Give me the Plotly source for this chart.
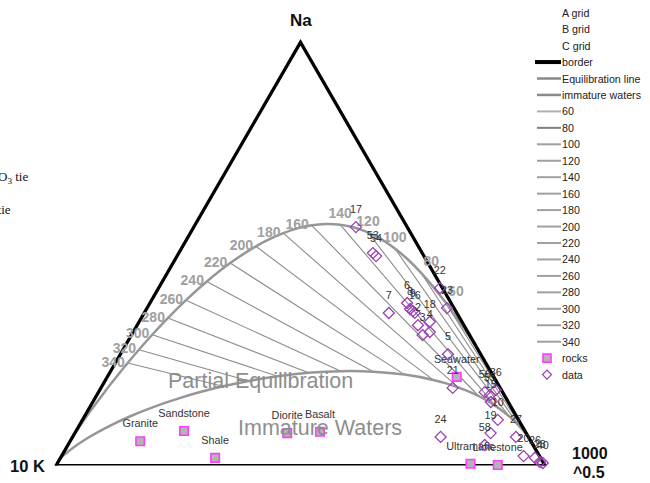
import math
import plotly.graph_objects as go

W, H = 650, 483

# ---------------- chart values ----------------
# Giggenbach (1988) Na-K-Mg geothermometer constants, Na fixed at 1000 mg/kg
NA_REF = 1000.0
NAK_A, NAK_B = 1390.0, 1.75      # T = 1390/(1.75+log(Na/K)) - 273.15
KMG_A, KMG_B = 4410.0, 14.0      # T = 4410/(14.0-log(K2/Mg)) - 273.15
MI_IMMATURE = 2.0                # maturity index of the immature-waters line

ISOTHERMS = [60, 80, 100, 120, 140, 160, 180, 200, 220, 240, 260, 280, 300, 320, 340]
CURVE_T = [-80, -60, -40, -20, 0, 10, 20, 30, 40, 50, 60, 70, 80, 90, 100, 110, 120,
           130, 140, 150, 160, 170, 180, 190, 200, 220, 240, 260, 280, 300, 320, 340,
           360, 380, 400, 450, 500, 600, 800, 1200, 2000]

# rocks (ternary %: Na/1000, K/100, sqrt(Mg))
ROCKS = ["Granite", "Sandstone", "Shale", "Diorite", "Basalt", "Ultramafic", "Limestone", "Seawater"]
ROCK_NA = [5.7, 8.1, 1.8, 7.6, 7.9, 0.4, 0.1, 20.8]
ROCK_K = [79.7, 69.6, 66.5, 48.9, 42.1, 15.3, 9.9, 7.9]
ROCK_MG = [14.6, 22.3, 31.8, 43.5, 50.0, 84.4, 90.0, 71.4]

# samples (ternary %)
SAMPLE_IDS = ["17", "53", "54", "22", "23", "7", "6", "8", "9", "16", "2", "18", "3", "4", "5",
              "21", "56", "55", "36", "15", "10", "19", "27", "24", "58", "20", "26", "28", "40"]
SAMPLE_NA = [55.9, 49.8, 49.1, 41.6, 36.9, 35.8, 38.1, 36.7, 36.2, 35.8, 32.9, 33.7, 30.6, 31.3, 26.1,
             18.2, 17.2, 16.5, 17.7, 14.9, 10.7, 7.6, 6.7, 6.7, 4.8, 2.2, 1.8, 0.8, 0.6]
SAMPLE_K = [10.8, 10.4, 10.1, 0.9, 1.8, 14.2, 9.3, 9.4, 9.1, 8.9, 9.7, 6.9, 9.9, 8.1, 7.0,
            10.0, 4.0, 3.3, 1.5, 3.9, 4.6, 7.6, 2.9, 18.2, 10.2, 3.6, 1.5, 1.0, 0.5]
SAMPLE_MG = [33.3, 39.8, 40.8, 57.5, 61.3, 50.1, 52.6, 53.9, 54.7, 55.3, 57.4, 59.4, 59.5, 60.6, 66.9,
             71.8, 78.8, 80.2, 80.8, 81.2, 84.7, 84.8, 90.4, 75.1, 85.0, 94.2, 96.7, 98.2, 98.9]

LEGEND_ITEMS = ["A grid", "B grid", "C grid", "border", "Equilibration line", "immature waters"] + \
               [str(t) for t in ISOTHERMS] + ["rocks", "data"]

# ---------------- helpers ----------------
def px(x):
    return x / W


def py(y):
    return 1 - y / H


def k_of(t):
    tk = t + 273.15
    return NA_REF / 10 ** (NAK_A / tk - NAK_B)


def eq_point(t):
    tk = t + 273.15
    k = k_of(t)
    mg = k ** 2 / 10 ** (KMG_B - KMG_A / tk)
    return NA_REF / 1000.0, k / 100.0, math.sqrt(mg)


def imm_point(t):
    k = k_of(t)
    lk2mg = (MI_IMMATURE + math.log10(k / NA_REF)) / 0.315
    mg = k ** 2 / 10 ** lk2mg
    return NA_REF / 1000.0, k / 100.0, math.sqrt(mg)


def norm(p):
    s = sum(p)
    return [v / s for v in p]


LINE_GREY = "#8c8c8c"
CURVE_GREY = "#969696"
LABEL_GREY = "#a0a0a0"
DATA_COL = "#9c3fb4"
ROCK_EDGE = "#ff3cff"
ROCK_FILL = "#b4b4b4"

fig = go.Figure()

# isotherm tie lines (equilibrium point -> immature line)
for t in ISOTHERMS:
    e = norm(eq_point(t))
    m = norm(imm_point(t))
    fig.add_trace(go.Scatterternary(
        a=[e[0], m[0]], b=[e[1], m[1]], c=[e[2], m[2]], mode="lines",
        line=dict(color=LINE_GREY, width=1.1), name=str(t), hoverinfo="skip"))

# full equilibrium and immature curves
eq_pts = [norm(eq_point(t)) for t in CURVE_T]
im_pts = [norm(imm_point(t)) for t in CURVE_T]
fig.add_trace(go.Scatterternary(
    a=[p[0] for p in eq_pts], b=[p[1] for p in eq_pts], c=[p[2] for p in eq_pts],
    mode="lines", line=dict(color=CURVE_GREY, width=2.5, shape="spline"),
    name="Equilibration line", hoverinfo="skip"))
fig.add_trace(go.Scatterternary(
    a=[p[0] for p in im_pts], b=[p[1] for p in im_pts], c=[p[2] for p in im_pts],
    mode="lines", line=dict(color=CURVE_GREY, width=2.5, shape="spline"),
    name="immature waters", hoverinfo="skip"))

# border (half of each stroke is clipped by the triangle)
fig.add_trace(go.Scatterternary(a=[0, 1, 0], b=[1, 0, 0], c=[0, 0, 1], mode="lines",
                                line=dict(color="black", width=6.5), cliponaxis=False,
                                name="border", hoverinfo="skip"))
fig.add_trace(go.Scatterternary(a=[0, 0], b=[1, 0], c=[0, 1], mode="lines",
                                line=dict(color="black", width=3), cliponaxis=False,
                                showlegend=False, hoverinfo="skip"))

# isotherm labels
lab_pts = [norm(eq_point(t)) for t in ISOTHERMS]
pos = []
for t in ISOTHERMS:
    if t <= 80:
        pos.append("top right")
    elif t <= 140:
        pos.append("top center")
    else:
        pos.append("middle left")
fig.add_trace(go.Scatterternary(
    a=[p[0] for p in lab_pts], b=[p[1] for p in lab_pts], c=[p[2] for p in lab_pts],
    mode="markers+text", text=[str(t) for t in ISOTHERMS], textposition=pos,
    marker=dict(size=3, color="rgba(0,0,0,0)"),
    textfont=dict(family="Liberation Sans, Arial", size=14, color=LABEL_GREY, weight="bold"),
    cliponaxis=False, hoverinfo="skip", showlegend=False))

# rocks
fig.add_trace(go.Scatterternary(
    a=ROCK_NA, b=ROCK_K, c=ROCK_MG, mode="markers", name="rocks",
    marker=dict(symbol="square", size=8.5, color=ROCK_FILL, line=dict(color=ROCK_EDGE, width=1.6)),
    cliponaxis=False))
fig.add_trace(go.Scatterternary(
    a=ROCK_NA, b=ROCK_K, c=ROCK_MG, mode="markers+text", text=ROCKS, textposition="top center",
    marker=dict(size=16, color="rgba(0,0,0,0)"),
    textfont=dict(family="Liberation Sans, Arial", size=10.8, color="#333333"),
    cliponaxis=False, hoverinfo="skip", showlegend=False))

# data
fig.add_trace(go.Scatterternary(
    a=SAMPLE_NA, b=SAMPLE_K, c=SAMPLE_MG, mode="markers", name="data",
    marker=dict(symbol="diamond-open", size=8.5, color=DATA_COL, line=dict(color=DATA_COL, width=1.3)),
    cliponaxis=False))
fig.add_trace(go.Scatterternary(
    a=SAMPLE_NA, b=SAMPLE_K, c=SAMPLE_MG, mode="markers+text", text=SAMPLE_IDS,
    textposition="top center", marker=dict(size=16, color="rgba(0,0,0,0)"),
    textfont=dict(family="Liberation Sans, Arial", size=10.8, color="#333333"),
    cliponaxis=False, hoverinfo="skip", showlegend=False))

axis_off = dict(showline=False, showgrid=False, showticklabels=False, ticks="",
                title=dict(text=""))

annotations = []
shapes = []

def add_text(text, x, y, size, color="#111111", bold=False, xanchor="center", family="Liberation Sans, Arial"):
    annotations.append(dict(text=text, x=px(x), y=py(y), xref="paper", yref="paper",
                            xanchor=xanchor, yanchor="middle", showarrow=False,
                            font=dict(family=family, size=size, color=color,
                                      weight="bold" if bold else "normal")))

# corner titles
add_text("Na", 300.5, 21, 17, bold=True)
add_text("10 K", 47, 466, 16.5, bold=True, xanchor="right")
add_text("1000", 570, 453, 16, bold=True, xanchor="left")
add_text("^0.5", 571, 472, 16, bold=True, xanchor="left")

# region labels
add_text("Partial Equilibration", 260, 381, 21.5, color="#8e8e8e")
add_text("Immature Waters", 320, 428, 21.5, color="#8e8e8e")

# text clipped at the left edge
add_text("HCO<sub>3</sub> tie", 29.5, 177, 13, color="#111111", xanchor="right", family="Liberation Serif, Times New Roman")
add_text("Cl tie", 13, 210, 13, color="#111111", xanchor="right", family="Liberation Serif, Times New Roman")

# manual legend
LEG_Y0, LEG_DY = 12.7, 16.45
for i, item in enumerate(LEGEND_ITEMS):
    y = LEG_Y0 + i * LEG_DY
    add_text(item, 560, y, 10.7, color="#222222", xanchor="left")
    if item == "border":
        shapes.append(dict(type="line", xref="paper", yref="paper", x0=px(535), x1=px(561),
                           y0=py(y), y1=py(y), line=dict(color="black", width=4)))
    elif item in ("Equilibration line", "immature waters"):
        shapes.append(dict(type="line", xref="paper", yref="paper", x0=px(537), x1=px(561),
                           y0=py(y), y1=py(y), line=dict(color="#8a8a8a", width=2.5)))
    elif item.isdigit():
        col = "#b0b0b0" if item == "60" else ("#808080" if item == "80" else "#a0a0a0")
        shapes.append(dict(type="line", xref="paper", yref="paper", x0=px(537), x1=px(561),
                           y0=py(y), y1=py(y), line=dict(color=col, width=2)))
    elif item == "rocks":
        shapes.append(dict(type="rect", xref="paper", yref="paper", x0=px(543), x1=px(551),
                           y0=py(y - 4), y1=py(y + 4), fillcolor=ROCK_FILL,
                           line=dict(color=ROCK_EDGE, width=1.6)))
    elif item == "data":
        cx, cy, r = 547, y, 4.5
        path = "M {} {} L {} {} L {} {} L {} {} Z".format(
            px(cx), py(cy - r), px(cx + r), py(cy), px(cx), py(cy + r), px(cx - r), py(cy))
        shapes.append(dict(type="path", xref="paper", yref="paper", path=path,
                           line=dict(color=DATA_COL, width=1.3)))

fig.update_layout(
    width=W, height=H, margin=dict(l=0, r=0, t=0, b=0),
    paper_bgcolor="white", plot_bgcolor="white", showlegend=False,
    ternary=dict(
        sum=1, bgcolor="white",
        domain=dict(x=[px(54), px(547)], y=[py(465.5), py(39)]),
        aaxis=axis_off, baxis=axis_off, caxis=axis_off),
    annotations=annotations, shapes=shapes,
    font=dict(family="Liberation Sans, Arial"),
)

fig.write_html("out.html", config={"displayModeBar": False},
               post_script="document.body.style.margin='0';document.body.style.overflow='hidden';")
